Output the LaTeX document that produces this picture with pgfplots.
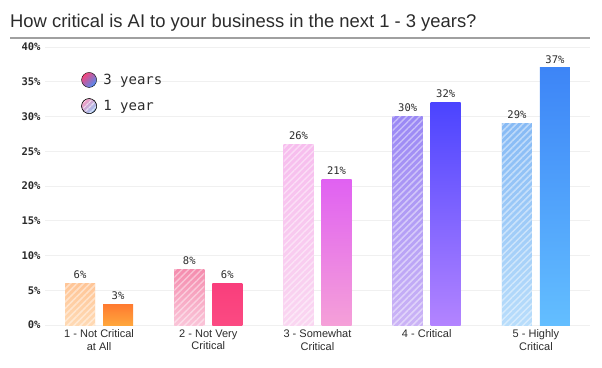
\documentclass[border=0pt]{standalone}
\usepackage{fontspec}
\setmainfont{Liberation Sans}
\setmonofont{DejaVu Sans Mono}
\usepackage{pgfplots}
\pgfplotsset{compat=1.18}
\usetikzlibrary{patterns.meta}

\definecolor{txt}{HTML}{2B2B2B}
\definecolor{gridc}{HTML}{F0F0F0}
\definecolor{rule}{HTML}{A0A0A0}
% 3 years (solid gradient)
\definecolor{aT}{HTML}{FF7A30}\definecolor{aB}{HTML}{FFA63C}
\definecolor{bT}{HTML}{F93E7C}\definecolor{bB}{HTML}{FB4A82}
\definecolor{cT}{HTML}{E061F2}\definecolor{cB}{HTML}{F5A0D8}
\definecolor{dT}{HTML}{4B44FF}\definecolor{dB}{HTML}{B384FF}
\definecolor{eT}{HTML}{3D85F7}\definecolor{eB}{HTML}{63BEFF}
% 1 year (light gradient, hatched)
\definecolor{aLT}{HTML}{FFC596}\definecolor{aLB}{HTML}{FFDAB4}
\definecolor{bLT}{HTML}{F58CAE}\definecolor{bLB}{HTML}{FAC4D8}
\definecolor{cLT}{HTML}{F7BDEE}\definecolor{cLB}{HTML}{FAD6F1}
\definecolor{dLT}{HTML}{9A88F5}\definecolor{dLB}{HTML}{CBB3F6}
\definecolor{eLT}{HTML}{86BAF5}\definecolor{eLB}{HTML}{B8DDFB}
% legend
\definecolor{lgP}{HTML}{F7457A}\definecolor{lgM}{HTML}{A957F2}\definecolor{lgB}{HTML}{4A8EF7}
\definecolor{lgPL}{HTML}{F59CC2}\definecolor{lgML}{HTML}{C9A8F2}\definecolor{lgBL}{HTML}{92C2F5}

\newcommand{\monofs}{\ttfamily\fontsize{10.5}{12}\selectfont}

\pgfplotsset{
  barlbl/.style={nodes near coords={\pgfmathprintnumber{\pgfplotspointmeta}\%},
    every node near coord/.append style={font=\monofs, text=txt, inner sep=2pt, yshift=2.5pt}},
  threeyr/.style 2 args={bar shift=19pt, draw=none,
    top color=#1, bottom color=#2, barlbl},
  oneyr/.style 2 args={bar shift=-19pt, draw=none,
    top color=#1, bottom color=#2, barlbl,
    postaction={fill opacity=0.55, pattern={Lines[angle=45,distance=4.6pt,line width=1.5pt]}, pattern color=white}},
}

\begin{document}
\begin{tikzpicture}[x=1pt,y=1pt]
\useasboundingbox (0,0) rectangle (602,367);
\node[anchor=base west, inner sep=0, font=\fontsize{18.4}{21}\selectfont, text=txt] at (10,339) {How critical is AI to your business in the next 1 - 3 years?};
\draw[rule, line width=1.4pt] (10,329) -- (590,329);
\begin{axis}[
  at={(45pt,42pt)}, anchor=south west,
  scale only axis, width=545pt, height=278pt,
  ybar, bar width=30pt,
  xmin=0.505, xmax=5.495, ymin=0, ymax=40,
  ytick={0,5,...,40},
  yticklabel={\pgfmathprintnumber{\tick}\%},
  /pgf/number format/assume math mode=true,
  yticklabel style={font=\ttfamily\bfseries\fontsize{10.5}{12}\selectfont, text=txt, xshift=-1pt},
  xtick={1,2,3,4,5},
  xticklabels={{1 - Not Critical\\at All},{2 - Not Very\\Critical},{3 - Somewhat\\Critical},{4 - Critical},{5 - Highly\\Critical}},
  xticklabel style={align=center, font=\fontsize{11}{12.5}\selectfont, text=txt, yshift=-1pt},
  major tick length=0pt,
  axis line style={draw=none},
  ymajorgrids, grid style={gridc, line width=0.8pt},
  clip=false,
  legend style={at={(0.060,0.918)}, anchor=north west, draw=none, fill=none,
    font=\ttfamily\fontsize{14}{16}\selectfont, text=txt, row sep=10pt,
    /tikz/every odd column/.append style={column sep=4pt},
    /tikz/every even column/.append style={column sep=0pt}},
  legend cell align=left,
]
\addlegendimage{legend image code/.code={
  \shade[shading=axis, top color=lgP, middle color=lgM, bottom color=lgB, shading angle=45] (0pt,0) circle (7.5pt);}}
\addlegendentry{3 years}
\addlegendimage{legend image code/.code={
  \shade[shading=axis, top color=lgPL, middle color=lgML, bottom color=lgBL, shading angle=45,
    postaction={fill opacity=0.6, pattern={Lines[angle=45,distance=4pt,line width=1.4pt]}, pattern color=white}] (0pt,0) circle (7.5pt);}}
\addlegendentry{1 year}

\addplot[oneyr={aLT}{aLB}, forget plot] coordinates {(1,6)};
\addplot[oneyr={bLT}{bLB}, forget plot] coordinates {(2,8)};
\addplot[oneyr={cLT}{cLB}, forget plot] coordinates {(3,26)};
\addplot[oneyr={dLT}{dLB}, forget plot] coordinates {(4,30)};
\addplot[oneyr={eLT}{eLB}, forget plot] coordinates {(5,29)};

\addplot[threeyr={aT}{aB}, forget plot] coordinates {(1,3)};
\addplot[threeyr={bT}{bB}, forget plot] coordinates {(2,6)};
\addplot[threeyr={cT}{cB}, forget plot] coordinates {(3,21)};
\addplot[threeyr={dT}{dB}, forget plot] coordinates {(4,32)};
\addplot[threeyr={eT}{eB}, forget plot] coordinates {(5,37)};
\end{axis}
\end{tikzpicture}
\end{document}
